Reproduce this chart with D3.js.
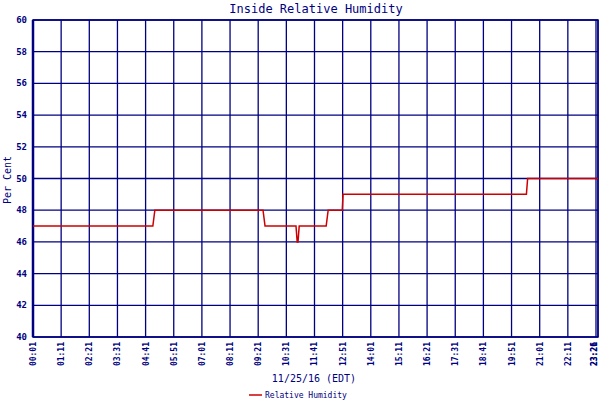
<!DOCTYPE html>
<html><head><meta charset="utf-8">
<script src="https://cdn.jsdelivr.net/npm/d3@7"></script>
<style>body{margin:0;background:#fff}</style>
</head><body>
<script>
// step points of the humidity trace (time, value)
var times = ["00:01","04:59","05:04","09:33","09:38","10:55","10:58","11:00","11:03","12:10","12:15","12:50","12:52","20:28","20:31","23:26"];
var values = [47,47,48,48,47,47,46,46,47,47,48,48,49,49,50,50];
var tickLabels = ["00:01","01:11","02:21","03:31","04:41","05:51","07:01","08:11","09:21","10:31","11:41","12:51","14:01","15:11","16:21","17:31","18:41","19:51","21:01","22:11","23:21","23:26"];
var yTicks = [40,42,44,46,48,50,52,54,56,58,60];

var toMin = function(s){ var p = s.split(":"); return +p[0]*60 + +p[1]; };
var W = 600, H = 400, navy = "#000080";
var svg = d3.select("body").append("svg").attr("width", W).attr("height", H);

var x = d3.scaleLinear().domain([toMin("00:01"), toMin("23:26")]).range([33, 598]);
var y = d3.scaleLinear().domain([40, 60]).range([337, 20]);

// grid
svg.append("g").selectAll("line").data(yTicks).join("line")
  .attr("x1", 33).attr("x2", 598).attr("y1", d => y(d)).attr("y2", d => y(d))
  .attr("stroke", navy).attr("stroke-width", 1.3);
svg.append("g").selectAll("line").data(tickLabels).join("line")
  .attr("y1", 20).attr("y2", 337).attr("x1", d => x(toMin(d))).attr("x2", d => x(toMin(d)))
  .attr("stroke", navy).attr("stroke-width", 1.3);
svg.append("rect").attr("x", 33).attr("y", 20).attr("width", 565).attr("height", 317)
  .attr("fill", "none").attr("stroke", navy).attr("stroke-width", 1.5);
svg.append("line").attr("x1", 33).attr("x2", 33).attr("y1", 20).attr("y2", 337).attr("stroke", navy).attr("stroke-width", 2.5);

// y labels
svg.append("g").selectAll("text").data(yTicks).join("text")
  .attr("x", 27).attr("y", d => y(d) + 3).attr("text-anchor", "end")
  .attr("font-family", "DejaVu Sans Mono").attr("font-size", 9).attr("font-weight", "bold")
  .attr("fill", navy).text(d => d);

// x labels
svg.append("g").selectAll("text").data(tickLabels).join("text")
  .attr("transform", d => "translate(" + Math.min(x(toMin(d)) + 3, 597) + ",342) rotate(-90)")
  .attr("text-anchor", "end")
  .attr("font-family", "DejaVu Sans Mono").attr("font-size", 8).attr("font-weight", "bold")
  .attr("fill", navy).text(d => d);

// line
var pts = times.map((t, i) => [toMin(t), values[i]]);
svg.append("path").datum(pts)
  .attr("d", d3.line().x(d => x(d[0])).y(d => y(d[1])))
  .attr("fill", "none").attr("stroke", "#cc0000").attr("stroke-width", 1.5);

// texts
svg.append("text").attr("x", 316).attr("y", 13).attr("text-anchor", "middle")
  .attr("font-family", "DejaVu Sans Mono").attr("font-size", 12).attr("fill", navy)
  .text("Inside Relative Humidity");
svg.append("text").attr("transform", "translate(11,180) rotate(-90)").attr("text-anchor", "middle")
  .attr("font-family", "DejaVu Sans Mono").attr("font-size", 10).attr("fill", navy).text("Per Cent");
svg.append("text").attr("x", 314).attr("y", 382).attr("text-anchor", "middle")
  .attr("font-family", "DejaVu Sans Mono").attr("font-size", 10).attr("fill", navy).text("11/25/16 (EDT)");
svg.append("line").attr("x1", 249).attr("x2", 262).attr("y1", 395).attr("y2", 395)
  .attr("stroke", "#cc0000").attr("stroke-width", 1.5);
svg.append("text").attr("x", 265).attr("y", 398)
  .attr("font-family", "DejaVu Sans Mono").attr("font-size", 8).attr("fill", navy).text("Relative Humidity");
</script>
</body></html>
